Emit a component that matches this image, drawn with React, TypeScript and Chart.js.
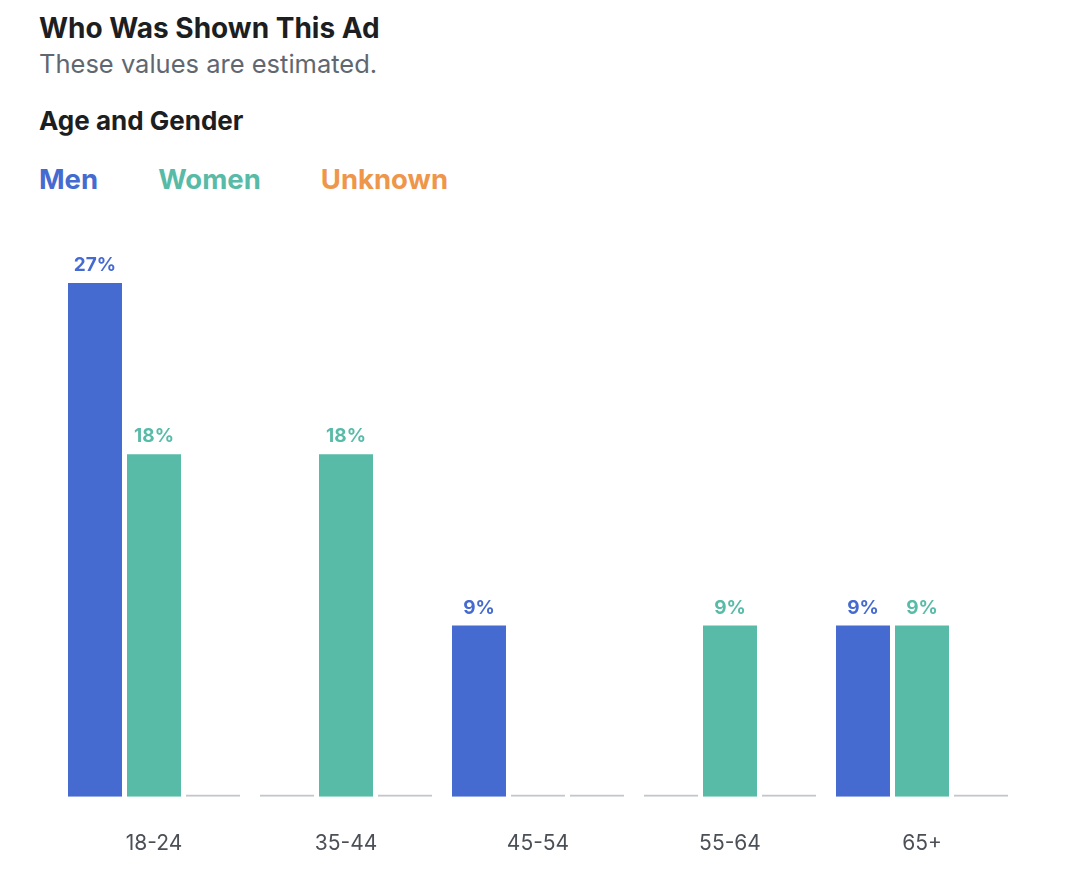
import React, { useEffect, useRef } from "react";
import { Chart, registerables } from "chart.js";

Chart.register(...registerables);

const titleText = "Who Was Shown This Ad";
const subtitleText = "These values are estimated.";
const sectionText = "Age and Gender";

const categories = ["18-24", "35-44", "45-54", "55-64", "65+"];
const seriesNames = ["Men", "Women", "Unknown"];
const menValues = [27, 0, 9, 0, 9];
const womenValues = [18, 18, 0, 9, 9];
const unknownValues = [0, 0, 0, 0, 0];
const yMax = 30;

const COLORS = ["#456ad0", "#57bba7", "#ee964a"];
const ZERO_COLOR = "#c3c6cb";
const FONT = "Inter, 'Noto Sans', sans-serif";

const valueLabelPlugin = {
  id: "valueLabels",
  afterDatasetsDraw(chart: any) {
    const ctx = chart.ctx;
    chart.data.datasets.forEach((ds: any, i: number) => {
      const meta = chart.getDatasetMeta(i);
      meta.data.forEach((bar: any, j: number) => {
        const v = ds.data[j];
        if (!v) return;
        ctx.save();
        ctx.fillStyle = COLORS[i];
        ctx.font = `bold 19px ${FONT}`;
        ctx.textAlign = "center";
        ctx.textBaseline = "alphabetic";
        ctx.fillText(`${v}%`, bar.x, bar.y - 12);
        ctx.restore();
      });
    });
  },
};

export default function App() {
  const canvasRef = useRef<HTMLCanvasElement | null>(null);

  useEffect(() => {
    if (!canvasRef.current) return;
    const seriesValues = [menValues, womenValues, unknownValues];
    const chart = new Chart(canvasRef.current, {
      type: "bar",
      data: {
        labels: categories,
        datasets: seriesNames.map((name, i) => ({
          label: name,
          data: seriesValues[i],
          backgroundColor: (c: any) => (c.raw === 0 ? ZERO_COLOR : COLORS[i]),
          borderWidth: 0,
          minBarLength: 2,
          barPercentage: 0.915,
          categoryPercentage: 0.922,
        })),
      },
      options: {
        responsive: false,
        animation: false,
        layout: { padding: { left: 58, right: 48, top: 6, bottom: 29 } },
        plugins: {
          legend: { display: false },
          tooltip: { enabled: false },
          title: { display: false },
        },
        scales: {
          x: {
            grid: { display: false, drawTicks: false },
            border: { display: false },
            ticks: {
              color: "#4b4f56",
              font: { family: FONT, size: 21 },
              padding: 34,
            },
          },
          y: {
            display: false,
            min: 0,
            max: yMax,
          },
        },
      },
      plugins: [valueLabelPlugin],
    });
    return () => chart.destroy();
  }, []);

  const textBase: React.CSSProperties = {
    position: "absolute",
    left: 39,
    margin: 0,
    lineHeight: 1,
    fontFamily: FONT,
    whiteSpace: "nowrap",
  };

  return (
    <div
      style={{
        position: "absolute",
        left: 0,
        top: 0,
        width: 1066,
        height: 884,
        background: "#ffffff",
        overflow: "hidden",
      }}
    >
      <div style={{ ...textBase, top: 14, fontSize: 28, fontWeight: 700, color: "#1c1e21" }}>
        {titleText}
      </div>
      <div style={{ ...textBase, top: 51, fontSize: 25.5, fontWeight: 400, color: "#606770" }}>
        {subtitleText}
      </div>
      <div style={{ ...textBase, top: 107.5, fontSize: 26, fontWeight: 700, color: "#1c1e21" }}>
        {sectionText}
      </div>
      <div style={{ ...textBase, top: 166, display: "flex", gap: 60 }}>
        {seriesNames.map((name, i) => (
          <span key={name} style={{ fontSize: 27.5, fontWeight: 700, color: COLORS[i] }}>
            {name}
          </span>
        ))}
      </div>
      <canvas
        ref={canvasRef}
        width={1066}
        height={699}
        style={{ position: "absolute", left: 0, top: 220, width: 1066, height: 699 }}
      />
    </div>
  );
}
